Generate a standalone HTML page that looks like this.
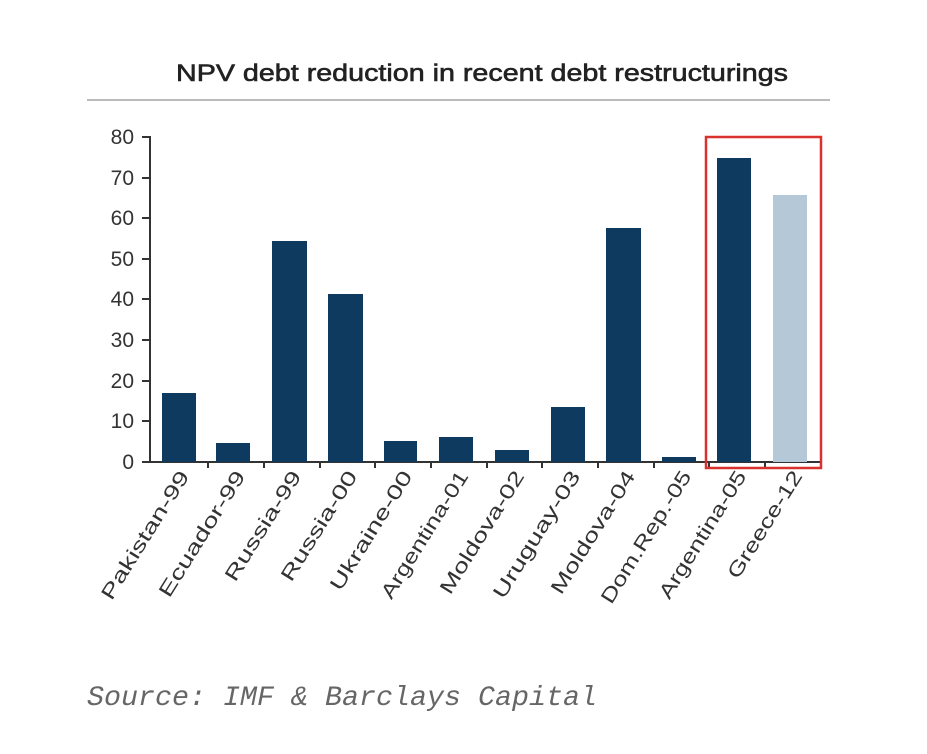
<!DOCTYPE html>
<html><head><style>
body{margin:0;background:#fff;width:927px;height:749px;overflow:hidden}
</style></head><body>
<svg width="927" height="749" xmlns="http://www.w3.org/2000/svg" font-family="Liberation Sans, sans-serif">
<text x="176" y="81" font-size="24" fill="#222" stroke="#222" stroke-width="0.6" textLength="612" lengthAdjust="spacingAndGlyphs">NPV debt reduction in recent debt restructurings</text>
<line x1="87" y1="100" x2="830" y2="100" stroke="#bbb" stroke-width="2"/>
<g font-size="21" fill="#333" text-anchor="end">
<text x="134" y="469">0</text><text x="134" y="428">10</text><text x="134" y="388">20</text><text x="134" y="347">30</text><text x="134" y="306">40</text><text x="134" y="266">50</text><text x="134" y="225">60</text><text x="134" y="185">70</text><text x="134" y="144">80</text>
</g>
<g stroke="#333" stroke-width="2">
<line x1="150" y1="136" x2="150" y2="463"/>
<line x1="149" y1="462" x2="820" y2="462"/>
<line x1="142" y1="137" x2="150" y2="137"/><line x1="142" y1="178" x2="150" y2="178"/><line x1="142" y1="218" x2="150" y2="218"/><line x1="142" y1="259" x2="150" y2="259"/><line x1="142" y1="299" x2="150" y2="299"/><line x1="142" y1="340" x2="150" y2="340"/><line x1="142" y1="381" x2="150" y2="381"/><line x1="142" y1="421" x2="150" y2="421"/><line x1="142" y1="462" x2="150" y2="462"/>
<line x1="208" y1="462" x2="208" y2="468"/><line x1="264" y1="462" x2="264" y2="468"/><line x1="320" y1="462" x2="320" y2="468"/><line x1="375" y1="462" x2="375" y2="468"/><line x1="431" y1="462" x2="431" y2="468"/><line x1="487" y1="462" x2="487" y2="468"/><line x1="542" y1="462" x2="542" y2="468"/><line x1="598" y1="462" x2="598" y2="468"/><line x1="654" y1="462" x2="654" y2="468"/><line x1="709" y1="462" x2="709" y2="468"/><line x1="765" y1="462" x2="765" y2="468"/>
</g>
<g fill="#0f3a5f">
<rect x="162" y="393" width="34" height="69"/>
<rect x="216" y="443" width="34" height="19"/>
<rect x="272" y="241" width="35" height="221"/>
<rect x="328" y="294" width="35" height="168"/>
<rect x="384" y="441" width="33" height="21"/>
<rect x="439" y="437" width="34" height="25"/>
<rect x="495" y="450" width="34" height="12"/>
<rect x="551" y="407" width="34" height="55"/>
<rect x="606" y="228" width="35" height="234"/>
<rect x="662" y="457" width="34" height="5"/>
<rect x="717" y="158" width="34" height="304"/>
</g>
<rect x="773" y="195" width="34" height="267" fill="#b4c8d8"/>
<rect x="706" y="137" width="115" height="331" fill="none" stroke="#d9312d" stroke-width="2.5"/>
<g font-size="20" fill="#333" text-anchor="end">
<text transform="translate(190,476) rotate(-58) scale(1.4,1)">Pakistan-99</text>
<text transform="translate(246,476) rotate(-58) scale(1.4,1)">Ecuador-99</text>
<text transform="translate(302,476) rotate(-58) scale(1.4,1)">Russia-99</text>
<text transform="translate(358,476) rotate(-58) scale(1.4,1)">Russia-00</text>
<text transform="translate(413,476) rotate(-58) scale(1.4,1)">Ukraine-00</text>
<text transform="translate(469,476) rotate(-58) scale(1.28,1)">Argentina-01</text>
<text transform="translate(525,476) rotate(-58) scale(1.35,1)">Moldova-02</text>
<text transform="translate(581,476) rotate(-58) scale(1.4,1)">Uruguay-03</text>
<text transform="translate(636,476) rotate(-58) scale(1.35,1)">Moldova-04</text>
<text transform="translate(692,476) rotate(-58) scale(1.28,1)">Dom.Rep.-05</text>
<text transform="translate(747,476) rotate(-58) scale(1.28,1)">Argentina-05</text>
<text transform="translate(803,476) rotate(-58) scale(1.3,1)">Greece-12</text>
</g>
<text x="87" y="705" font-family="Liberation Mono, monospace" font-style="italic" font-size="28" fill="#666" textLength="510" lengthAdjust="spacingAndGlyphs">Source: IMF &amp; Barclays Capital</text>
</svg>
</body></html>
